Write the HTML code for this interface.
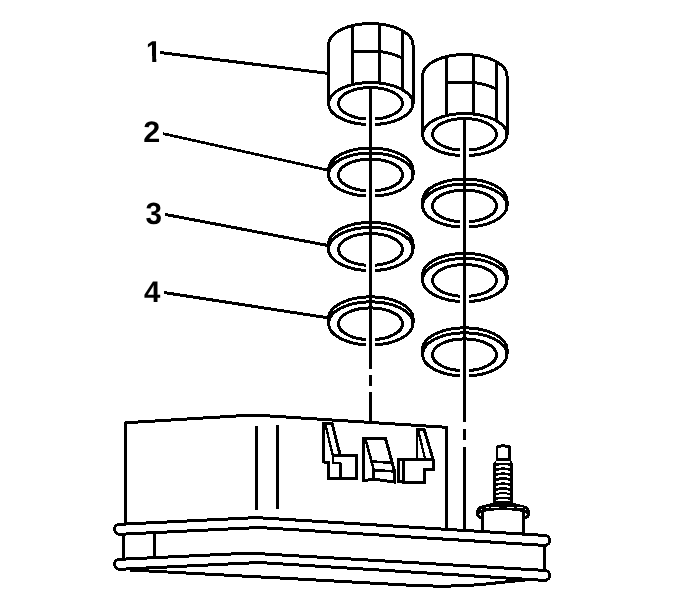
<!DOCTYPE html>
<html lang="en">
<head>
<meta charset="utf-8">
<title>Exploded view</title>
<style>
html,body{margin:0;padding:0;background:#fff;}
body{width:677px;height:610px;overflow:hidden;position:relative;font-family:"Liberation Sans",sans-serif;}
svg{position:absolute;left:0;top:0;display:block;}
.n{font-family:"Liberation Sans",sans-serif;font-weight:bold;font-size:30px;fill:#000;}
</style>
</head>
<body>
<svg width="677" height="610" viewBox="0 0 677 610">
<rect x="0" y="0" width="677" height="610" fill="#fff"/>
<g fill="none" stroke="#000" stroke-width="3" stroke-linecap="butt" stroke-linejoin="round" shape-rendering="crispEdges">
<path d="M328.5,103.6 L328.5,44.6 A42.25,21 0 0 1 413.0,44.6 L413.0,103.6"/>
<ellipse cx="370.75" cy="103.6" rx="42.25" ry="21"/>
<ellipse cx="370.5" cy="103.39999999999999" rx="32" ry="15.8"/>
<path d="M352.5,25.66 L352.5,84.66"/>
<path d="M379.5,24.06 L379.5,83.06"/>
<path d="M402.5,30.75 L402.5,89.75"/>
<path d="M352.5,52.0 L379.5,51.5 Q391.75,53.0 402.5,58.0"/>
<path d="M328.5,174.6 L328.5,169.6 A42.25,21.6 0 0 1 413.0,169.6 L413.0,174.6"/>
<ellipse cx="370.75" cy="174.6" rx="42.25" ry="21.6"/>
<ellipse cx="370.5" cy="175.0" rx="32" ry="15.9"/>
<path d="M328.5,249.0 L328.5,244.0 A42.25,21.6 0 0 1 413.0,244.0 L413.0,249.0"/>
<ellipse cx="370.75" cy="249.0" rx="42.25" ry="21.6"/>
<ellipse cx="370.5" cy="249.4" rx="32" ry="15.9"/>
<path d="M328.5,323.4 L328.5,318.4 A42.25,21.6 0 0 1 413.0,318.4 L413.0,323.4"/>
<ellipse cx="370.75" cy="323.4" rx="42.25" ry="21.6"/>
<ellipse cx="370.5" cy="323.79999999999995" rx="32" ry="15.9"/>
<rect x="366.0" y="113.6" width="9" height="15" fill="#fff" stroke="none"/>
<rect x="366.0" y="184.6" width="9" height="15" fill="#fff" stroke="none"/>
<rect x="366.0" y="259.0" width="9" height="15" fill="#fff" stroke="none"/>
<rect x="366.0" y="333.4" width="9" height="15" fill="#fff" stroke="none"/>
<path d="M370.5,87.6 V369 M370.5,375 V386 M370.5,392 V421"/>
<path d="M422.5,134.6 L422.5,75.6 A42.25,21 0 0 1 507.0,75.6 L507.0,134.6"/>
<ellipse cx="464.75" cy="134.6" rx="42.25" ry="21"/>
<ellipse cx="464.5" cy="134.4" rx="32" ry="15.8"/>
<path d="M446.5,56.66 L446.5,115.66"/>
<path d="M473.5,55.06 L473.5,114.06"/>
<path d="M496.5,61.75 L496.5,120.75"/>
<path d="M446.5,83.0 L473.5,82.5 Q485.75,84.0 496.5,89.0"/>
<path d="M422.5,205.6 L422.5,200.6 A42.25,21.6 0 0 1 507.0,200.6 L507.0,205.6"/>
<ellipse cx="464.75" cy="205.6" rx="42.25" ry="21.6"/>
<ellipse cx="464.5" cy="206.0" rx="32" ry="15.9"/>
<path d="M422.5,280.0 L422.5,275.0 A42.25,21.6 0 0 1 507.0,275.0 L507.0,280.0"/>
<ellipse cx="464.75" cy="280.0" rx="42.25" ry="21.6"/>
<ellipse cx="464.5" cy="280.4" rx="32" ry="15.9"/>
<path d="M422.5,354.4 L422.5,349.4 A42.25,21.6 0 0 1 507.0,349.4 L507.0,354.4"/>
<ellipse cx="464.75" cy="354.4" rx="42.25" ry="21.6"/>
<ellipse cx="464.5" cy="354.79999999999995" rx="32" ry="15.9"/>
<rect x="460.0" y="144.6" width="9" height="15" fill="#fff" stroke="none"/>
<rect x="460.0" y="215.6" width="9" height="15" fill="#fff" stroke="none"/>
<rect x="460.0" y="290.0" width="9" height="15" fill="#fff" stroke="none"/>
<rect x="460.0" y="364.4" width="9" height="15" fill="#fff" stroke="none"/>
<path d="M464.5,118.6 V422.3 M464.5,429.4 V440 M464.5,447 V529"/>
<path d="M160.1,52.5 L328,73.4"/>
<path d="M163.2,133.7 L328.1,170.2" stroke-width="2.7"/>
<path d="M165.1,214.4 L328,245.5"/>
<path d="M164.3,292.6 L328,317.8"/>
<path d="M125.5,524 V422.8 L236,416 Q254,414.6 273,416.2 L446.5,427.3 V529.5"/>
<path d="M256.5,426 V510 M277.5,425 V509"/>
<path d="M544.6,535.4 L256.6,517.6 L119.6,524.3 A5,5 0 0 0 119.6,534.3 L259,527.5 L544.6,545.4 A5,5 0 0 0 544.6,535.4"/>
<path d="M544.6,570.4 L250,553.1 L119.6,559.3 A5,5 0 0 0 119.6,569.3 L259,562.5 L544.6,580.4 A5,5 0 0 0 544.6,570.4"/>
<path d="M123.5,534 V559.5 M154.5,532.5 V558 M544.6,545 V570.5"/>
<path d="M130,570 L300,579.1 L400,584.7 Q444,587.6 478,584.8 L527,579.8"/>
<path stroke-linejoin="miter" d="M323.6,462.5 V423.3 H332 L340.2,455.2 M323.6,462.5 H328.5 V478.3 H356.4 V455.25 H332.5 M340.8,463 V478.3"/>
<path stroke-linejoin="miter" stroke-width="2.4" d="M325.2,424 L332.8,455 M332.7,455.3 V463 H340.8"/>
<path stroke-linejoin="miter" d="M363.9,480.6 V438.8 H385.6 L394.4,470.8 V482 L373.7,479.2 L363.9,480.6 Z"/>
<path stroke-width="2.6" d="M365.8,440.3 L373.7,469.6 V479.2 M372.7,461.5 L390.8,462.8 M373.7,470.1 L394.4,471.4"/>
<path stroke-linejoin="miter" d="M424.2,429.6 L433.2,460 V469.2 H424.5 V482.6 L398.6,481.9 V459.7 L433.2,460"/>
<path stroke-linejoin="miter" stroke-width="2.3" d="M417,459.7 V429.6 H424.5 M418.3,431 L425.2,459.5"/>
<path stroke-width="2.6" d="M403.3,459.7 V482.2"/>
<path fill="#000" stroke="none" d="M495.9,461 V446.6 L497.3,445 H501 L501.6,443.9 H504.8 L505.4,445 H509.4 L511,446.8 V461 Z"/>
<path fill="#fff" stroke="none" d="M498,458 V447.7 H501 L501.6,446.9 H504.8 L505.4,447.7 H508 V458 Z"/>
<path fill="#000" stroke="none" d="M493,504 V463.8 L495.9,460.6 H511 L512.9,463.8 V504 Z"/>
<path d="M496.2,462.4 Q503.2,461.0 510.2,462.4" stroke="#fff" stroke-width="2.2"/>
<path d="M496.2,467.0 Q503.2,465.6 510.2,467.0" stroke="#fff" stroke-width="2.2"/>
<path d="M496.2,472.0 Q503.2,470.6 510.2,472.0" stroke="#fff" stroke-width="2.2"/>
<path d="M496.2,476.9 Q503.2,475.5 510.2,476.9" stroke="#fff" stroke-width="2.2"/>
<path d="M496.2,482.0 Q503.2,480.6 510.2,482.0" stroke="#fff" stroke-width="2.2"/>
<path d="M496.2,486.9 Q503.2,485.5 510.2,486.9" stroke="#fff" stroke-width="2.2"/>
<path d="M496.2,491.9 Q503.2,490.5 510.2,491.9" stroke="#fff" stroke-width="2.2"/>
<path d="M496.2,496.1 Q503.2,494.7 510.2,496.1" stroke="#fff" stroke-width="2.2"/>
<path d="M496.2,500.6 Q503.2,499.2 510.2,500.6" stroke="#fff" stroke-width="1.5"/>
<path fill="#000" stroke="none" d="M482.0,520.0 L479.8,519.2 L477.4,517.4 L476.0,514.8 L476.0,511.0 L477.2,508.4 L479.7,506.3 L484.0,504.9 L489.5,503.8 L493.0,502.5 L513.1,502.5 L516.6,503.8 L522.1,504.9 L526.4,506.3 L528.9,508.4 L530.1,511.0 L530.1,514.8 L528.7,517.4 L526.3,519.2 L524.1,520.0 Z"/>
<path fill="#fff" stroke="none" d="M484.1,525 V511.8 Q503,508.4 522.1,511.8 V525 Z"/>
<path d="M482.6,511 V530.8 M523.6,511 V533.4"/>
<rect fill="#fff" stroke="none" x="491" y="506.5" width="7.8" height="1"/>
<rect fill="#fff" stroke="none" x="507" y="506.5" width="6.9" height="1"/>
<rect fill="#fff" stroke="none" x="486" y="507.3" width="3.0" height="1"/>
<rect fill="#fff" stroke="none" x="517.3" y="507.3" width="5.8" height="1"/>
<rect fill="#fff" stroke="none" x="480.8" y="509.1" width="1.0" height="1"/>
<rect fill="#fff" stroke="none" x="524.6" y="509.1" width="1.0" height="1"/>
<path fill="#fff" stroke="none" d="M478.9,514.5 L481.1,512.8 V516.2 Z M527.2,514.5 L525.1,512.8 V516.2 Z"/>
</g>
<defs><clipPath id="c1"><path d="M147.9,38 H156.3 V64 H152.2 V56 H147.9 Z"/></clipPath></defs>
<g style="filter:grayscale(1)">
<g clip-path="url(#c1)"><text class="n" transform="translate(145,61.9) skewX(0.05) scale(1,1)">1</text></g>
<text class="n" transform="translate(143.15,141.8) skewX(0.05) scale(1.02,0.99)">2</text>
<text class="n" transform="translate(145.4,223.6) skewX(0.05) scale(0.99,1.03)">3</text>
<text class="n" transform="translate(143.9,301.9) skewX(0.05) scale(0.98,1)">4</text>
</g>
</svg>
</body>
</html>
